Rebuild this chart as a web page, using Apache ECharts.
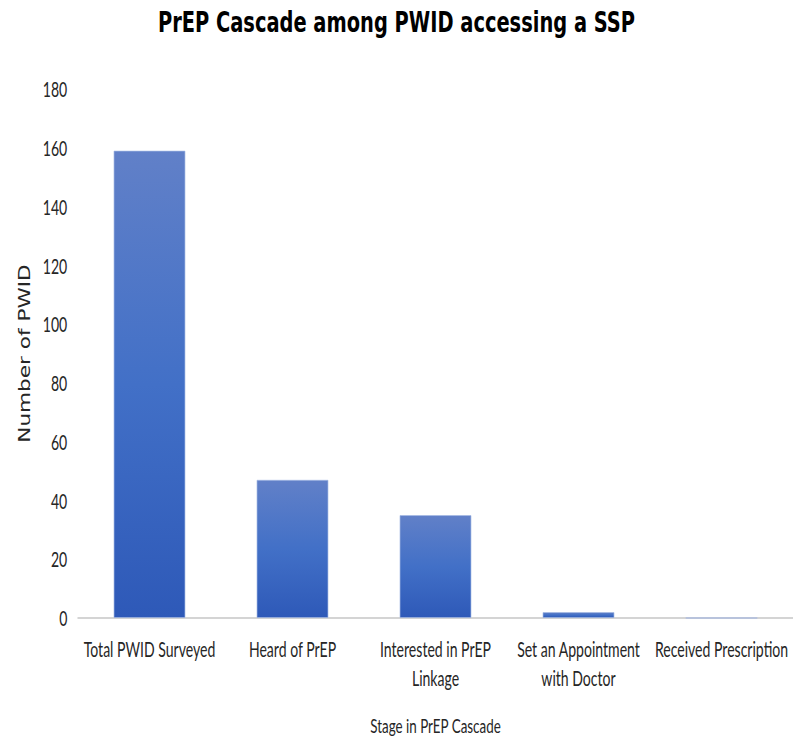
<!DOCTYPE html>
<html>
<head>
<meta charset="utf-8">
<style>
  html, body { margin: 0; padding: 0; background: #ffffff; overflow: hidden; }
  #frame { width: 793px; height: 737px; overflow: hidden; position: relative; }
  /* The chart is laid out on a wider canvas and compressed horizontally,
     giving the condensed lettering of the figure. */
  #chart { height: 737px; transform-origin: 0 0; position: absolute; left: 0; top: 0; }
</style>
<script src="https://cdn.jsdelivr.net/npm/echarts@6/dist/echarts.min.js"></script>
</head>
<body>
<div id="frame"><div id="chart"></div></div>
<script>
// Stages of the PrEP cascade and the number of PWID reaching each one
const stages = [
  'Total PWID Surveyed',
  'Heard of PrEP',
  'Interested in PrEP\nLinkage',
  'Set an Appointment\nwith Doctor',
  'Received Prescription'
];
const counts = [159, 47, 35, 2, 0];
const yTicks = { min: 0, max: 180, step: 20 };

// horizontal compression factor and the resulting drawing width
const squeeze = 0.67;
const outerWidth = 793;
const innerWidth = outerWidth / squeeze;

const el = document.getElementById('chart');
el.style.width = innerWidth + 'px';
el.style.transform = 'scaleX(' + squeeze + ')';

const face = 'Lato, "Open Sans", "Liberation Sans", sans-serif';

const chart = echarts.init(el, null, { renderer: 'svg', width: innerWidth, height: 737 });

chart.setOption({
  backgroundColor: '#ffffff',
  animation: false,
  title: {
    text: 'PrEP Cascade among PWID accessing a SSP',
    left: 'center',
    top: 3,
    textStyle: { fontFamily: '"DejaVu Sans", sans-serif', fontWeight: 'bold', fontSize: 29, color: '#000000' }
  },
  grid: {
    left: 78 / squeeze, right: 0, top: 89, bottom: 119,
    containLabel: false,
    outerBoundsMode: 'none'
  },
  xAxis: {
    type: 'category',
    data: stages,
    name: 'Stage in PrEP Cascade',
    nameLocation: 'middle',
    nameGap: 97,
    nameTextStyle: { fontFamily: face, fontSize: 20, color: '#262626' },
    axisLine: { lineStyle: { color: '#d4d4d4', width: 2 } },
    axisTick: { show: false },
    axisLabel: {
      interval: 0,
      margin: 17,
      fontFamily: face,
      fontSize: 21,
      lineHeight: 28.5,
      color: '#262626'
    }
  },
  yAxis: {
    type: 'value',
    min: yTicks.min,
    max: yTicks.max,
    interval: yTicks.step,
    name: 'Number of PWID',
    nameLocation: 'middle',
    nameGap: 68,
    nameRotate: 90,
    nameTextStyle: { fontFamily: '"DejaVu Sans Condensed", "DejaVu Sans", sans-serif', fontSize: 24, color: '#262626' },
    axisLine: { show: false },
    axisTick: { show: false },
    splitLine: { show: false },
    axisLabel: { margin: 16, fontFamily: face, fontSize: 21, color: '#262626' }
  },
  series: [{
    type: 'bar',
    data: counts,
    barWidth: '50%',
    itemStyle: {
      color: new echarts.graphic.LinearGradient(0, 0, 0, 1, [
        { offset: 0, color: '#6180c8' },
        { offset: 0.5, color: '#4270c7' },
        { offset: 1, color: '#2e59b8' }
      ]),
      borderColor: '#a3b8e4',
      borderWidth: 0.8
    }
  }]
});
</script>
</body>
</html>
